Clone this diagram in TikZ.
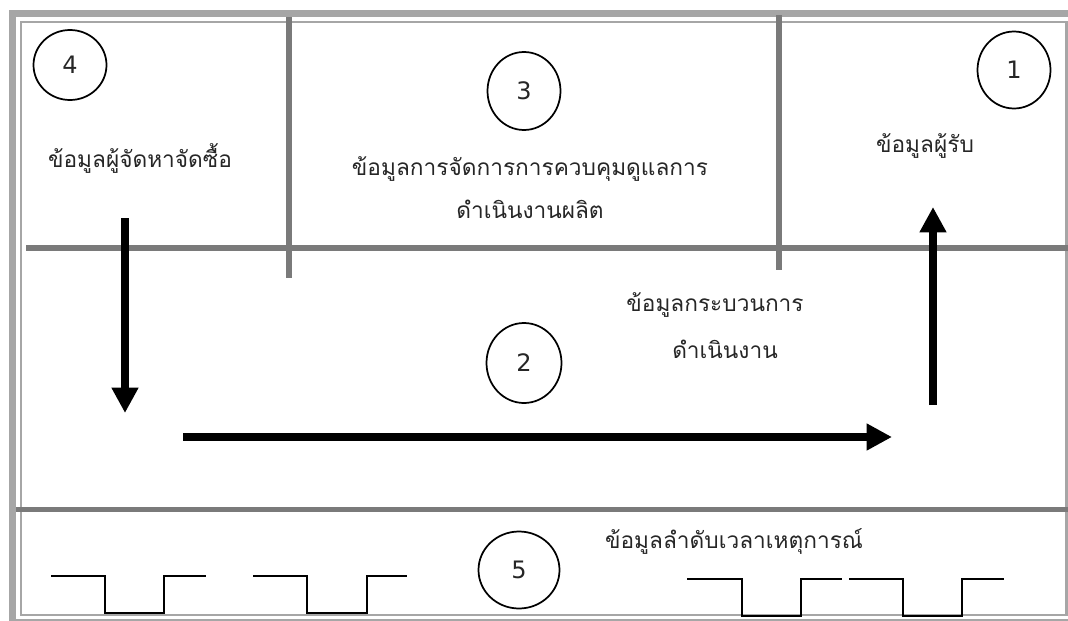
\documentclass[tikz,border=0pt]{standalone}
\usepackage{fontspec}
\setmainfont{DejaVu Sans}
\newfontfamily\thaifont[Script=Thai]{Loma}
\usetikzlibrary{shapes.geometric,arrows.meta}
\definecolor{framegray}{HTML}{A6A6A6}
\definecolor{gridgray}{HTML}{7A7A7A}
\definecolor{txt}{HTML}{262626}
\begin{document}
\begin{tikzpicture}[x=0.75pt,y=-0.75pt,
  frameouter/.style={draw=framegray,line width=5.25pt},
  frameinner/.style={draw=framegray,line width=2pt},
  gridline/.style={draw=gridgray,line width=4pt},
  num/.style={draw=black,line width=1.3pt,ellipse,inner sep=0pt,text=txt,font=\fontsize{18}{21}\selectfont},
  lbl/.style={text=txt,font=\thaifont\fontsize{17}{20}\selectfont,inner sep=0pt,anchor=base},
  bigarrow/.style={line width=6.5pt,-{Triangle[length=19pt,width=19pt]}},
  wave/.style={line width=1.6pt}
]
\useasboundingbox (0,0) rectangle (1068,621);
\clip (0,0) rectangle (1068,621);
% frame
\draw[frameouter] (12.5,13.5) rectangle (1075,622.5);
\draw[frameinner] (21,22) rectangle (1066.5,615);
% grid lines
\draw[gridline] (26,248) -- (1068,248);
\draw[gridline] (289,17) -- (289,278);
\draw[gridline] (779,15) -- (779,270);
\draw[gridline] (16,509.5) -- (1068,509.5);
% numbered circles
\node[num,minimum width=54.75pt,minimum height=52.5pt] (c4) at (70,65) {4};
\node[num,minimum width=54.75pt,minimum height=57.75pt] (c1) at (1014,70) {1};
\node[num,minimum width=54.75pt,minimum height=58.5pt] (c3) at (524,91) {3};
\node[num,minimum width=56.25pt,minimum height=60pt] (c2) at (524,363) {2};
\node[num,minimum width=60.75pt,minimum height=57.75pt] (c5) at (519,570) {5};
% labels
\node[lbl] (t4) at (140,167) {ข้อมูลผู้จัดหาจัดซื้อ};
\node[lbl] (t1) at (925,152) {ข้อมูลผู้รับ};
\node[lbl] (t3a) at (530,175) {ข้อมูลการจัดการการควบคุมดูแลการ};
\node[lbl] (t3b) at (530,218) {ดำเนินงานผลิต};
\node[lbl] (t2a) at (715,311) {ข้อมูลกระบวนการ};
\node[lbl] (t2b) at (725,358) {ดำเนินงาน};
\node[lbl] (t5) at (734,548) {ข้อมูลลำดับเวลาเหตุการณ์};
% arrows
\coordinate (dS) at (125,218);
\coordinate (dE) at (125,413);
\coordinate (hS) at (183,437);
\coordinate (hE) at (892,437);
\coordinate (uS) at (933,405);
\coordinate (uE) at (933,207);
\draw[bigarrow] (dS) -- (dE);
\draw[bigarrow] (hS) -- (hE);
\draw[bigarrow] (uS) -- (uE);
% timing waves
\draw[wave] (51,576) -- (105,576) -- (105,613) -- (164,613) -- (164,576) -- (206,576);
\draw[wave] (253,576) -- (307,576) -- (307,613) -- (367,613) -- (367,576) -- (407,576);
\draw[wave] (687,579) -- (742,579) -- (742,616) -- (801,616) -- (801,579) -- (842,579);
\draw[wave] (849,579) -- (903,579) -- (903,616) -- (962,616) -- (962,579) -- (1004,579);
\end{tikzpicture}
\end{document}
